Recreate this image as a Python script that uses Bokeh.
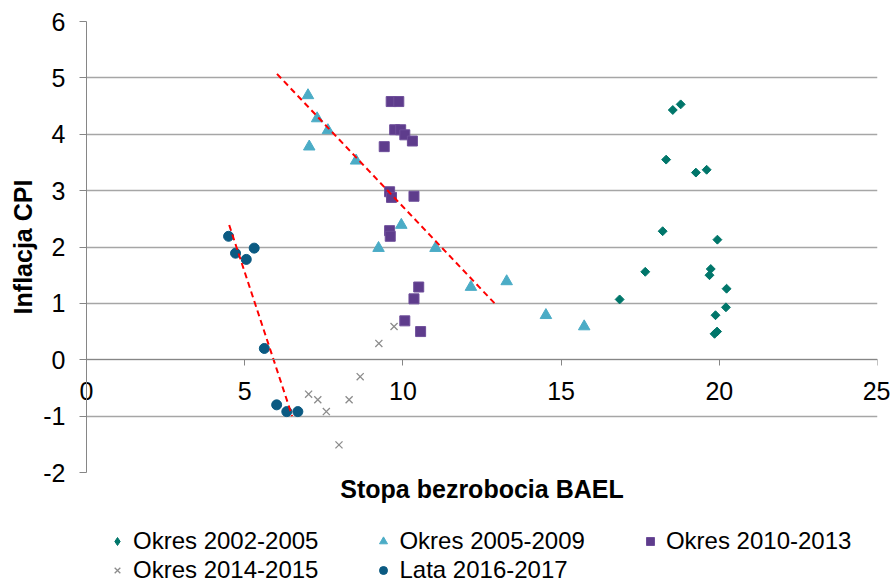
import math
from bokeh.plotting import figure
from bokeh.layouts import column
from bokeh.models import Legend, LegendItem, Title, FixedTicker, LinearAxis, PrintfTickFormatter
from bokeh.embed import file_html
from bokeh.resources import INLINE

# ---- data ----
x_2002_2005 = [18.53, 18.78, 18.32, 19.26, 19.60, 18.21, 19.94, 17.66, 19.73, 19.69, 20.23, 16.85, 20.21, 19.88, 19.85, 19.93]
y_2002_2005 = [4.43, 4.53, 3.55, 3.32, 3.37, 2.28, 2.13, 1.56, 1.61, 1.50, 1.26, 1.07, 0.93, 0.79, 0.46, 0.50]

x_2005_2009 = [7.00, 7.29, 7.63, 7.04, 8.52, 9.95, 9.23, 11.03, 12.15, 13.28, 14.52, 15.73]
y_2005_2009 = [4.69, 4.28, 4.07, 3.78, 3.53, 2.39, 1.98, 1.98, 1.29, 1.39, 0.79, 0.59]

x_2010_2013 = [9.63, 9.87, 9.74, 9.93, 10.06, 10.30, 9.41, 9.58, 9.64, 10.35, 9.58, 9.60, 10.50, 10.35, 10.06, 10.56]
y_2010_2013 = [4.58, 4.58, 4.08, 4.08, 3.99, 3.88, 3.78, 2.98, 2.88, 2.90, 2.29, 2.19, 1.29, 1.08, 0.69, 0.50]

x_2014_2015 = [9.24, 9.72, 8.65, 8.30, 7.02, 7.31, 7.58, 7.98]
y_2014_2015 = [0.29, 0.59, -0.30, -0.71, -0.61, -0.71, -0.92, -1.51]

x_2016_2017 = [4.49, 4.71, 5.05, 5.30, 5.62, 6.01, 6.33, 6.68]
y_2016_2017 = [2.19, 1.89, 1.78, 1.98, 0.20, -0.80, -0.92, -0.92]

trend_a_x = [4.51, 6.50]
trend_a_y = [2.39, -1.00]
trend_b_x = [6.02, 12.90]
trend_b_y = [5.07, 1.00]

labels = ["Okres 2002-2005", "Okres 2005-2009", "Okres 2010-2013", "Okres 2014-2015", "Lata 2016-2017"]
x_ticks = [0, 5, 10, 15, 20, 25]
y_ticks = [-2, -1, 0, 1, 2, 3, 4, 5, 6]

series_x = [x_2002_2005, x_2005_2009, x_2010_2013, x_2014_2015, x_2016_2017]
series_y = [y_2002_2005, y_2005_2009, y_2010_2013, y_2014_2015, y_2016_2017]

FONT = "Liberation Sans"
GRID = "#A6A6A6"
AXIS = "#868686"

C1, C2, C3, C3L, C4, C5 = "#00766A", "#4BACC6", "#5E3C8C", "#6E4E9A", "#8C8C8C", "#0B5A82"

p = figure(width=890, height=517, x_range=(0, 25), y_range=(-2, 6),
           output_backend="svg", toolbar_location=None,
           min_border_left=86, min_border_right=13, min_border_top=21, min_border_bottom=45)
p.outline_line_color = None
p.xgrid.grid_line_color = None
p.ygrid.grid_line_color = GRID
p.ygrid.grid_line_width = 1.3

# y axis
p.yaxis.ticker = FixedTicker(ticks=y_ticks)
p.yaxis.formatter = PrintfTickFormatter(format="%d")
p.yaxis.axis_line_color = AXIS
p.yaxis.major_tick_line_color = AXIS
p.yaxis.minor_tick_line_color = None
p.yaxis.major_tick_in = 0
p.yaxis.major_tick_out = 7
p.yaxis.major_label_standoff = 14
p.yaxis.major_label_text_font = FONT
p.yaxis.major_label_text_font_size = "25px"
p.yaxis.major_label_text_color = "#000000"
p.yaxis.axis_label = "Inflacja CPI"
p.yaxis.axis_label_text_font = FONT
p.yaxis.axis_label_text_font_size = "25px"
p.yaxis.axis_label_text_font_style = "bold"
p.yaxis.axis_label_text_color = "#000000"
p.yaxis.axis_label_standoff = 3

# x axis: labels only (placed under the y=0 line)
label_axis = p.xaxis[0]
label_axis.ticker = FixedTicker(ticks=x_ticks)
label_axis.formatter = PrintfTickFormatter(format="%d")
label_axis.axis_line_color = None
label_axis.major_tick_line_color = None
label_axis.minor_tick_line_color = None
label_axis.major_tick_out = 0
label_axis.major_tick_in = 0
label_axis.major_label_text_font = FONT
label_axis.major_label_text_font_size = "25px"
label_axis.major_label_text_color = "#000000"
label_axis.major_label_standoff = -121

# x axis line and ticks crossing at y=0
zero_axis = LinearAxis(fixed_location=0, ticker=FixedTicker(ticks=x_ticks),
                       axis_line_color=AXIS, major_tick_line_color=AXIS,
                       minor_tick_line_color=None, major_tick_in=0, major_tick_out=6,
                       major_label_text_color=None)

xt = Title(text="Stopa bezrobocia BAEL", align="center", text_font=FONT,
           text_font_size="25px", text_font_style="bold", text_color="#000000",
           standoff=0)
p.below = [xt, label_axis, zero_axis]

p.scatter(x_2002_2005, y_2002_2005, marker="square", size=6.3, angle=math.pi / 4,
          fill_color=C1, line_color=C1)
p.scatter(x_2005_2009, y_2005_2009, marker="triangle", size=11.5,
          fill_color=C2, line_color=C2)
p.scatter(x_2010_2013, y_2010_2013, marker="square", size=10,
          fill_color=C3, line_color=C3L)
p.scatter(x_2014_2015, y_2014_2015, marker="x", size=10,
          line_color=C4, line_width=1.3)
p.scatter(x_2016_2017, y_2016_2017, marker="circle", size=10,
          fill_color=C5, line_color=C5)

p.line(trend_a_x, trend_a_y, line_color="#FF0000", line_width=2, line_dash="6 4")
p.line(trend_b_x, trend_b_y, line_color="#FF0000", line_width=2, line_dash="6 4")

# legend panel (series drawn outside its visible range, only the legend shows)
q = figure(width=890, height=67, x_range=(0, 1), y_range=(0, 1),
           output_backend="svg", toolbar_location=None,
           x_axis_type=None, y_axis_type=None, min_border=0)
q.outline_line_color = None
q.grid.visible = False
styles = [dict(marker="diamond", fill_color=C1, line_color=C1),
          dict(marker="triangle", fill_color=C2, line_color=C2),
          dict(marker="square", fill_color=C3, line_color=C3L),
          dict(marker="x", line_color=C4, line_width=1.3),
          dict(marker="circle", fill_color=C5, line_color=C5)]
glyphs = [q.scatter(sx, sy, **st) for sx, sy, st in zip(series_x, series_y, styles)]


def make_legend(idx, dy):
    return Legend(items=[LegendItem(label=labels[i], renderers=[glyphs[i]]) for i in idx],
                  orientation="horizontal", location=(21, dy),
                  label_text_font=FONT, label_text_font_size="24px", label_text_color="#000000",
                  glyph_width=20, glyph_height=20, label_standoff=6, spacing=55,
                  padding=0, margin=0, border_line_color=None, background_fill_alpha=0)


q.add_layout(make_legend([0, 1, 2], 29), "center")
q.add_layout(make_legend([3, 4], 0), "center")

layout = column(p, q, spacing=0)
open("out.html", "w").write(file_html(layout, INLINE))
